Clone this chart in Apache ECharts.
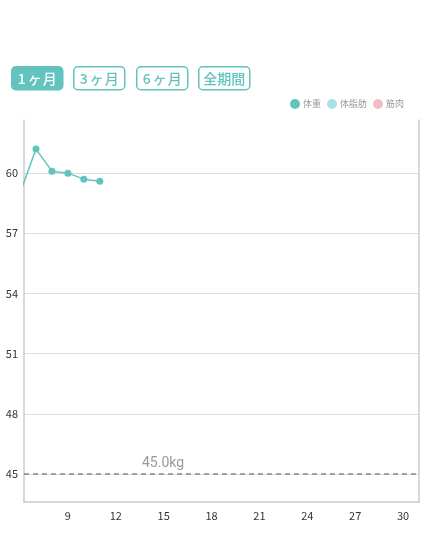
<!DOCTYPE html>
<html>
<head>
<meta charset="utf-8">
<script src="https://cdn.jsdelivr.net/npm/echarts@6/dist/echarts.min.js"></script>
<style>
html,body{margin:0;padding:0;background:#fff;}
#c{width:430px;height:538px;}
</style>
</head>
<body>
<div id="c"></div>
<script>
const days = [6, 7, 8, 9, 10, 11];
const weight = [59.0, 61.2, 60.1, 60.0, 59.7, 59.6];
const bodyFat = [];
const muscle = [];
const yTicks = [45, 48, 51, 54, 57, 60];
const xTicks = [9, 12, 15, 18, 21, 24, 27, 30];
const targetWeight = 45.0;
const seriesNames = ['体重', '体脂肪', '筋肉'];
const buttonLabels = ['1ヶ月', '3ヶ月', '6ヶ月', '全期間'];

const teal = '#62c3bf';
const chart = echarts.init(document.getElementById('c'), null, {renderer: 'canvas'});
const font = '"Noto Sans CJK JP", "Noto Sans", sans-serif';

const btnX = [11, 73, 136, 198];
const buttons = buttonLabels.map((t, i) => {
  const col = i === 0 ? '#fff' : teal;
  const spaced = i < 3;
  return {
    type: 'group',
    left: btnX[i], top: 66,
    children: [
      {type: 'rect', shape: {x: 0, y: 0, width: 51, height: 23, r: 4},
       style: i === 0 ? {fill: teal, stroke: teal, lineWidth: 1.5} : {fill: '#fff', stroke: teal, lineWidth: 1.5}},
      {type: 'text', x: 25.5, y: 12,
       style: spaced ? {
         text: '{n|' + t[0] + '}{k|' + t[1] + '}{m|' + t.slice(2) + '}',
         align: 'center', verticalAlign: 'middle',
         rich: {
           n: {fill: col, fontSize: 14, fontWeight: 500, fontFamily: font, padding: [0, 2, 0, 0]},
           k: {fill: col, fontSize: 14, fontWeight: 500, fontFamily: font, padding: [0, 1, 0, 0]},
           m: {fill: col, fontSize: 14, fontWeight: 500, fontFamily: font}
         }
       } : {text: t, fill: col, fontSize: 14, fontWeight: 500, fontFamily: font, align: 'center', verticalAlign: 'middle'}}
    ]
  };
});

chart.setOption({
  animation: false,
  textStyle: {fontFamily: font},
  graphic: buttons,
  legend: {
    data: seriesNames,
    right: 21, top: 94,
    icon: 'circle', itemWidth: 10, itemHeight: 10, itemGap: 6,
    textStyle: {fontSize: 9, color: '#999', fontFamily: font, padding: [0, 0, 0, -2]}
  },
  grid: {left: 24, right: 11, top: 120, bottom: 36},
  xAxis: {
    type: 'value', min: 6.25, max: 31,
    axisLine: {show: true, lineStyle: {color: '#ccc', width: 1.5}},
    axisTick: {show: false, customValues: xTicks},
    axisLabel: {customValues: xTicks, color: '#333', fontSize: 11, margin: 8},
    splitLine: {show: false}
  },
  yAxis: [{
    type: 'value', min: 43.6, max: 62.65,
    axisLine: {show: true, lineStyle: {color: '#ccc', width: 1.5}},
    axisTick: {show: false, customValues: yTicks},
    axisLabel: {customValues: yTicks, color: '#333', fontSize: 11, margin: 6},
    splitLine: {show: true, lineStyle: {color: '#ddd', width: 1}}
  }, {
    type: 'value', min: 43.6, max: 62.65, position: 'right',
    axisLine: {show: true, lineStyle: {color: '#ccc', width: 1.5}},
    axisTick: {show: false}, axisLabel: {show: false}, splitLine: {show: false}
  }],
  series: [{
    name: seriesNames[0], type: 'line',
    data: days.map((d, i) => [d, weight[i]]),
    color: teal,
    symbol: 'circle', symbolSize: 7,
    lineStyle: {width: 1.5, color: teal},
    itemStyle: {color: teal},
    clip: true,
    markLine: {
      silent: true, symbol: 'none',
      data: [{yAxis: targetWeight}],
      lineStyle: {type: [5, 4], color: '#888', width: 1.5},
      label: {position: 'insideStartTop', distance: [118, 3], formatter: targetWeight.toFixed(1) + 'kg', color: '#999', fontSize: 14, fontFamily: 'Roboto, sans-serif'}
    }
  }, {
    name: seriesNames[1], type: 'line', data: bodyFat, color: '#a8e2e6', itemStyle: {color: '#a8e2e6'}
  }, {
    name: seriesNames[2], type: 'line', data: muscle, color: '#f2bcc4', itemStyle: {color: '#f2bcc4'}
  }]
});
</script>
</body>
</html>
